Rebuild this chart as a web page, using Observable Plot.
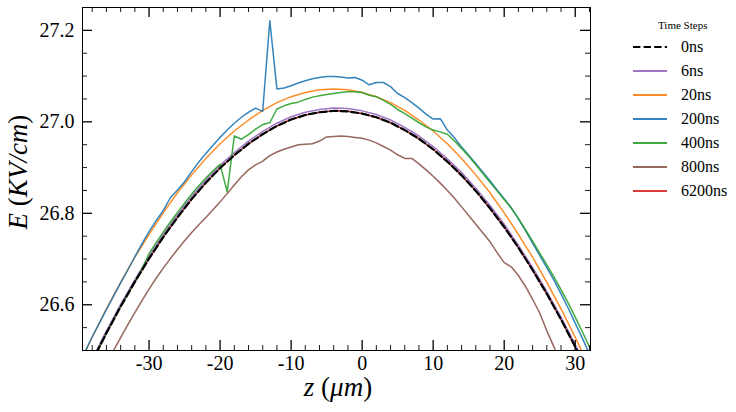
<!DOCTYPE html>
<html><head><meta charset="utf-8">
<script src="https://cdn.jsdelivr.net/npm/d3@7"></script>
<script src="https://cdn.jsdelivr.net/npm/@observablehq/plot@0.6"></script>
</head><body style="margin:0;font-family:'Liberation Serif',serif">
<div id="wrap" style="position:relative;width:736px;height:412px;overflow:hidden;font-family:'Liberation Serif',serif">
<div style="position:absolute;left:338px;top:372px;font-size:27px;transform:translateX(-50%);white-space:nowrap;font-family:'Liberation Serif',serif"><i>z</i> (<i>μm</i>)</div>
<div style="position:absolute;left:18px;top:172px;font-size:27px;transform:translate(-50%,-50%) rotate(-90deg);white-space:nowrap;font-family:'Liberation Serif',serif"><i>E</i> (<i>KV/cm</i>)</div>
<div style="position:absolute;left:658px;top:19px;font-size:11px;white-space:nowrap;font-family:'Liberation Serif',serif">Time Steps</div>
<div id="legend"></div>
</div>
<script>
// ---- data ----
const zEven = [-40,-38,-36,-34,-32,-30,-28,-26,-24,-22,-20,-18,-16,-14,-12,-10,-8,-6,-4,-2,0,2,4,6,8,10,12,14,16,18,20,22,24,26,28,30,32];
const zFine = [-40,-39,-38,-37,-36,-35,-34,-33,-32,-31,-30,-29,-28,-27,-26,-25,-24,-23,-22,-21,-20,-19,-18,-17,-16,-15,-14,-13,-12,-11,-10,-9,-8,-7,-6,-5,-4,-3,-2,-1,0,1,2,3,4,5,6,7,8,9,10,11,12,13,14,15,16,17,18,19,20,21,22,23,24,25,26,27,28,29,30,31,32];

const e0ns = [26.411,26.477,26.538,26.596,26.650,26.701,26.748,26.791,26.831,26.867,26.899,26.927,26.952,26.973,26.991,27.005,27.015,27.021,27.024,27.023,27.018,27.010,26.998,26.982,26.963,26.940,26.913,26.883,26.849,26.811,26.770,26.725,26.676,26.624,26.568,26.508,26.444];
const e6ns = [26.416,26.482,26.543,26.601,26.655,26.706,26.754,26.797,26.837,26.873,26.905,26.933,26.958,26.979,26.997,27.011,27.021,27.027,27.030,27.029,27.024,27.016,27.004,26.988,26.969,26.946,26.919,26.889,26.855,26.817,26.776,26.730,26.681,26.629,26.573,26.513,26.449];
const e20ns = [26.463,26.529,26.591,26.649,26.704,26.754,26.801,26.845,26.884,26.920,26.952,26.980,27.004,27.025,27.042,27.055,27.064,27.070,27.072,27.070,27.064,27.055,27.042,27.025,27.004,26.980,26.952,26.920,26.884,26.845,26.801,26.754,26.704,26.649,26.591,26.529,26.463];
const e6200ns = [26.411,26.477,26.538,26.597,26.650,26.701,26.748,26.791,26.831,26.867,26.899,26.927,26.952,26.973,26.991,27.005,27.015,27.021,27.024,27.023,27.018,27.010,26.998,26.982,26.963,26.940,26.913,26.883,26.849,26.811,26.770,26.725,26.676,26.624,26.568,26.508,26.444];

const e200ns = [26.468,26.498,26.530,26.560,26.590,26.619,26.648,26.676,26.705,26.733,26.760,26.784,26.806,26.834,26.851,26.869,26.891,26.912,26.931,26.949,26.966,26.982,26.997,27.010,27.021,27.030,27.023,27.221,27.072,27.074,27.079,27.085,27.090,27.094,27.097,27.099,27.099,27.098,27.096,27.097,27.091,27.081,27.086,27.086,27.077,27.062,27.053,27.042,27.030,27.017,27.006,27.007,26.982,26.965,26.945,26.927,26.909,26.890,26.871,26.851,26.832,26.812,26.788,26.762,26.735,26.708,26.681,26.654,26.624,26.593,26.560,26.527,26.492];
const e400ns = [26.411,26.444,26.477,26.508,26.538,26.568,26.596,26.624,26.650,26.678,26.712,26.736,26.759,26.781,26.802,26.822,26.842,26.860,26.877,26.893,26.907,26.847,26.969,26.962,26.972,26.984,26.994,26.998,27.028,27.035,27.040,27.043,27.049,27.054,27.057,27.060,27.062,27.064,27.066,27.066,27.064,27.058,27.055,27.047,27.038,27.027,27.018,27.008,26.998,26.989,26.982,26.978,26.973,26.958,26.942,26.925,26.906,26.887,26.868,26.849,26.830,26.811,26.789,26.764,26.739,26.713,26.687,26.661,26.633,26.604,26.573,26.541,26.508];
const e800ns = [26.345,26.378,26.410,26.441,26.471,26.500,26.528,26.556,26.583,26.609,26.634,26.658,26.680,26.701,26.721,26.740,26.758,26.775,26.791,26.808,26.825,26.843,26.862,26.880,26.895,26.906,26.914,26.926,26.934,26.940,26.945,26.950,26.951,26.952,26.958,26.967,26.968,26.969,26.968,26.966,26.964,26.960,26.954,26.946,26.938,26.928,26.920,26.920,26.908,26.895,26.881,26.866,26.850,26.833,26.814,26.795,26.776,26.757,26.738,26.714,26.692,26.683,26.664,26.640,26.612,26.582,26.543,26.508,26.472,26.436,26.398,26.360,26.320];

const xMajor = [-30,-20,-10,0,10,20,30];
const xMinor = [-38,-36,-34,-32,-28,-26,-24,-22,-18,-16,-14,-12,-8,-6,-4,-2,2,4,6,8,12,14,16,18,22,24,26,28,32];
const yMajor = [26.6,26.8,27.0,27.2];
const yMinor = [26.55,26.65,26.7,26.75,26.85,26.9,26.95,27.05,27.1,27.15];

const seriesNames = ["0ns","6ns","20ns","200ns","400ns","800ns","6200ns"];
const seriesColors = ["#000000","#9467bd","#ff7f0e","#1f77b4","#2ca02c","#8c564b","#d62728"];

// ---- build tables ----
const zip = (zs, es) => zs.map((z, i) => ({z, E: es[i]}));
const tables = {
  "0ns": zip(zEven, e0ns), "6ns": zip(zEven, e6ns), "20ns": zip(zEven, e20ns),
  "200ns": zip(zFine, e200ns), "400ns": zip(zFine, e400ns), "800ns": zip(zFine, e800ns),
  "6200ns": zip(zEven, e6200ns)
};
const colorOf = Object.fromEntries(seriesNames.map((n, i) => [n, seriesColors[i]]));

const W = 736, H = 412, mL = 82, mR = 146, mT = 7, mB = 62;
const innerW = W - mL - mR, innerH = H - mT - mB;
const drawOrder = ["6200ns","6ns","20ns","200ns","400ns","800ns"];

const chart = Plot.plot({
  width: W, height: H,
  marginLeft: mL, marginRight: mR, marginTop: mT, marginBottom: mB,
  style: {background: "white", color: "black", fontFamily: "Liberation Serif"},
  x: {domain: [-39.37, 32.15]},
  y: {domain: [26.5, 27.25]},
  marks: [
    ...drawOrder.map(n => Plot.line(tables[n], {x: "z", y: "E", stroke: colorOf[n], strokeWidth: 1.5, strokeOpacity: 0.9, clip: true})),
    Plot.line(tables["0ns"], {x: "z", y: "E", stroke: "black", strokeWidth: 2.2, strokeDasharray: "7.4,3.2", clip: true}),
    Plot.frame({stroke: "black", strokeWidth: 1}),
    Plot.tickX(xMajor, {insetTop: innerH - 10, stroke: "black", strokeWidth: 1.3}),
    Plot.tickX(xMajor, {insetBottom: innerH - 10, stroke: "black", strokeWidth: 1.3}),
    Plot.tickX(xMinor, {insetTop: innerH - 5, stroke: "black", strokeWidth: 0.9}),
    Plot.tickX(xMinor, {insetBottom: innerH - 5, stroke: "black", strokeWidth: 0.9}),
    Plot.tickY(yMajor, {insetRight: innerW - 10, stroke: "black", strokeWidth: 1.3}),
    Plot.tickY(yMajor, {insetLeft: innerW - 10, stroke: "black", strokeWidth: 1.3}),
    Plot.tickY(yMinor, {insetRight: innerW - 5, stroke: "black", strokeWidth: 0.9}),
    Plot.tickY(yMinor, {insetLeft: innerW - 5, stroke: "black", strokeWidth: 0.9}),
    Plot.axisX({ticks: xMajor, tickSize: 0, tickPadding: 5, fontSize: 20, label: null, tickFormat: d => String(d)}),
    Plot.axisY({ticks: yMajor, tickSize: 0, tickPadding: 8, fontSize: 20, label: null, tickFormat: d => d.toFixed(1)})
  ]
});
const wrap = document.getElementById("wrap");
chart.style.position = "absolute";
chart.style.left = "0px";
chart.style.top = "0px";
wrap.insertBefore(chart, wrap.firstChild);

// legend entries
const lg = document.getElementById("legend");
let html = "";
seriesNames.forEach((n, i) => {
  const top = 37 + i * 24;
  const dash = n === "0ns" ? 'stroke-dasharray="7.4,3.2" stroke-width="2.2"' : 'stroke-width="1.8" stroke-opacity="0.9"';
  html += `<div style="position:absolute;left:633px;top:${top + 7}px"><svg width="34" height="6" style="display:block"><line x1="0" y1="3" x2="34" y2="3" stroke="${colorOf[n]}" ${dash}/></svg></div>`;
  html += `<div style="position:absolute;left:681px;top:${top}px;font-size:16px;line-height:20px;white-space:nowrap;font-family:'Liberation Serif',serif">${n}</div>`;
});
lg.innerHTML = html;
</script></body></html>
